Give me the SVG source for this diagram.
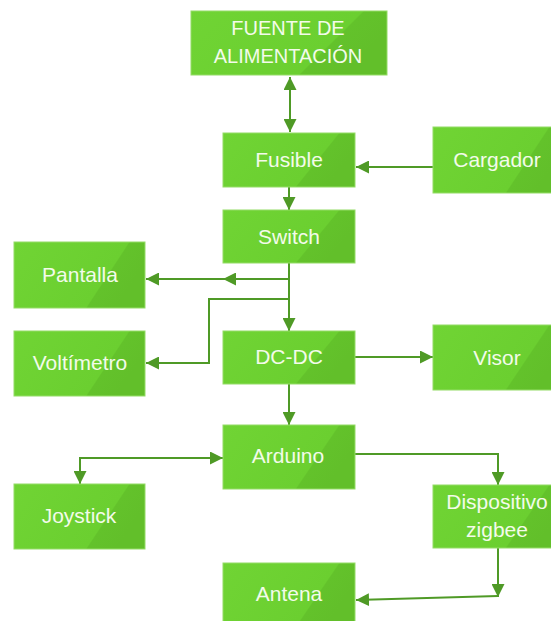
<svg xmlns="http://www.w3.org/2000/svg" width="551" height="621" viewBox="0 0 551 621">
<style>
.box{fill:url(#g);stroke:#94dc66;stroke-width:1}
.t{font-family:"Liberation Sans",Arial,sans-serif;font-size:21px;fill:#f3fbea;text-anchor:middle}
.c{fill:none;stroke:#4f9a26;stroke-width:2}
</style>
<defs>
<linearGradient id="g" x1="0" y1="0" x2="1" y2="0.33">
<stop offset="0" stop-color="#70d434"/>
<stop offset="0.79" stop-color="#6bcf30"/>
<stop offset="0.8" stop-color="#63c22b"/>
<stop offset="1" stop-color="#62bf2a"/>
</linearGradient>
<marker id="a" markerUnits="userSpaceOnUse" markerWidth="14" markerHeight="13" refX="13" refY="6.5" orient="auto-start-reverse">
<path d="M0,0 L13,6.5 L0,13 z" fill="#4f9a26"/>
</marker>
</defs>
<g id="connectors">
<path class="c" d="M290,77 V132" marker-start="url(#a)" marker-end="url(#a)"/>
<path class="c" d="M433,167 H356" marker-end="url(#a)"/>
<path class="c" d="M289,187 V210" marker-end="url(#a)"/>
<path class="c" d="M289,263 V331" marker-end="url(#a)"/>
<path class="c" d="M289,279 H223" marker-end="url(#a)"/>
<path class="c" d="M224,279 H146" marker-end="url(#a)"/>
<path class="c" d="M289,299 H209 V363 H146" marker-end="url(#a)"/>
<path class="c" d="M355,357 H433" marker-end="url(#a)"/>
<path class="c" d="M289,384 V425" marker-end="url(#a)"/>
<path class="c" d="M80,484 V458 H223" marker-start="url(#a)" marker-end="url(#a)"/>
<path class="c" d="M355,454 H498 V485" marker-end="url(#a)"/>
<path class="c" d="M498,548 V597" marker-end="url(#a)"/>
<path class="c" d="M498,596 L356,600" marker-end="url(#a)"/>
</g>
<g id="fuente"><rect class="box" x="191" y="11" width="196" height="64"/><text class="t" font-size="20" x="288" y="35" style="font-size:20px">FUENTE DE</text><text class="t" x="288" y="63" style="font-size:20px">ALIMENTACIÓN</text></g>
<g id="fusible"><rect class="box" x="223" y="133" width="132" height="54"/><text class="t" x="289" y="167">Fusible</text></g>
<g id="cargador"><rect class="box" x="433" y="127" width="132" height="66"/><text class="t" x="497" y="167">Cargador</text></g>
<g id="switch"><rect class="box" x="223" y="210" width="132" height="53"/><text class="t" x="289" y="244">Switch</text></g>
<g id="pantalla"><rect class="box" x="14" y="242" width="131" height="66"/><text class="t" x="80" y="282">Pantalla</text></g>
<g id="voltimetro"><rect class="box" x="14" y="331" width="131" height="65"/><text class="t" x="80" y="370">Voltímetro</text></g>
<g id="dcdc"><rect class="box" x="223" y="331" width="132" height="53"/><text class="t" x="289" y="364">DC-DC</text></g>
<g id="visor"><rect class="box" x="433" y="325" width="132" height="65"/><text class="t" x="497" y="365">Visor</text></g>
<g id="arduino"><rect class="box" x="223" y="425" width="132" height="64"/><text class="t" x="288" y="463">Arduino</text></g>
<g id="joystick"><rect class="box" x="14" y="484" width="131" height="65"/><text class="t" x="79" y="523">Joystick</text></g>
<g id="dispositivo"><rect class="box" x="433" y="485" width="132" height="63"/><text class="t" x="497" y="509">Dispositivo</text><text class="t" x="497" y="537">zigbee</text></g>
<g id="antena"><rect class="box" x="223" y="563" width="132" height="64"/><text class="t" x="289" y="601">Antena</text></g>
</svg>
